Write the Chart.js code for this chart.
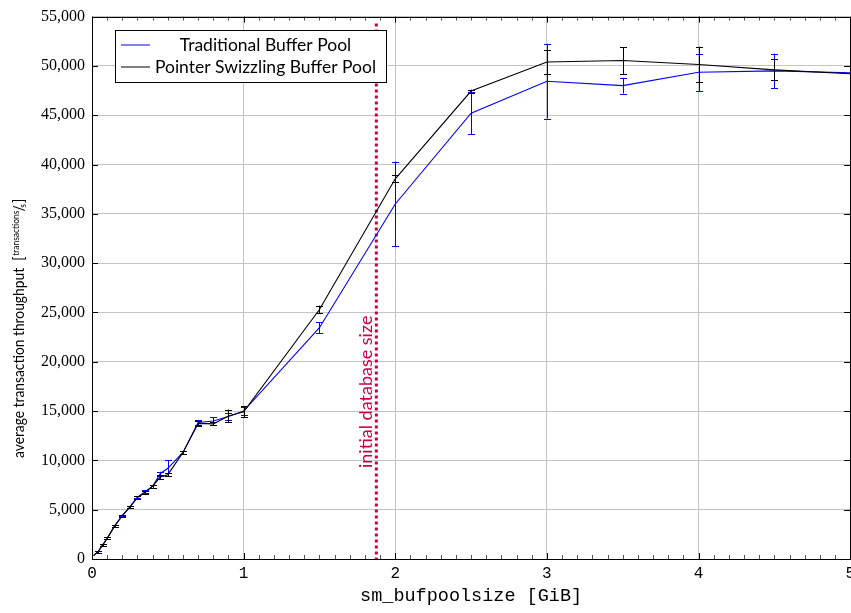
<!DOCTYPE html>
<html>
<head>
<meta charset="utf-8">
<script src="https://cdn.jsdelivr.net/npm/chart.js@4.4.1/dist/chart.umd.min.js"></script>
<style>
  html, body { margin: 0; padding: 0; background: #fff; overflow: hidden; }
  #wrap { position: relative; width: 851px; height: 613px; overflow: hidden; }
  canvas { position: absolute; left: 0; top: 0; }
</style>
</head>
<body>
<div id="wrap"><canvas id="c" width="860" height="613"></canvas></div>
<script>
// ---- data ----
const bufferSizes = [0.01, 0.04, 0.07, 0.1, 0.15, 0.2, 0.25, 0.3, 0.35, 0.4, 0.45, 0.5, 0.6, 0.7, 0.8, 0.9, 1, 1.5, 2, 2.5, 3, 3.5, 4, 4.5, 5];
const traditional    = [350, 740, 1420, 2090, 3360, 4410, 5290, 6270, 6820, 7380, 8650, 9200, 10800, 13850, 14000, 14450, 15000, 23450, 36000, 45200, 48450, 48000, 49350, 49500, 49300];
const traditionalErr = [0, 120, 120, 100, 100, 100, 120, 120, 150, 150, 200, 800, 120, 250, 400, 350, 400, 550, 4300, 2150, 3800, 800, 1900, 1750, 0];
const swizzling      = [350, 740, 1410, 2090, 3360, 4400, 5270, 6240, 6740, 7380, 8310, 8550, 10800, 13750, 13700, 14500, 14920, 25300, 38550, 47450, 50400, 50550, 50150, 49600, 49200];
const swizzlingErr   = [0, 120, 120, 100, 100, 100, 120, 120, 150, 150, 200, 150, 120, 250, 150, 650, 550, 400, 350, 150, 1200, 1350, 1800, 1050, 0];
const seriesLabels = ['Traditional Buffer Pool', 'Pointer Swizzling Buffer Pool'];
const xTicks = [0, 1, 2, 3, 4, 5];
const yTicks = [0, 5000, 10000, 15000, 20000, 25000, 30000, 35000, 40000, 45000, 50000, 55000];
const initialDbSize = 1.875;
const markerLabel = 'initial database size';
const xTitle = 'sm_bufpoolsize [GiB]';
const yTitleMain = 'average transaction throughput';
const yTitleUnitNum = 'transactions';
const yTitleUnitDen = 's';

const SANS = 'Lato, "Noto Sans", sans-serif';
const SERIF = '"Liberation Serif", "DejaVu Serif", serif';
const MONO = '"Liberation Mono", "DejaVu Sans Mono", monospace';
const MARK = '#c8004a';

const toPoints = (ys) => bufferSizes.map((x, i) => ({ x: x, y: ys[i] }));

const errorBars = {
  id: 'errorBars',
  afterDatasetsDraw(chart) {
    const { ctx, scales: { x, y } } = chart;
    const errs = [traditionalErr, swizzlingErr];
    const vals = [traditional, swizzling];
    ctx.save();
    ctx.lineWidth = 1;
    ctx.beginPath();
    ctx.rect(chart.chartArea.left, chart.chartArea.top, chart.chartArea.right - chart.chartArea.left, chart.chartArea.bottom - chart.chartArea.top);
    ctx.clip();
    [0, 1].forEach(d => {
      ctx.strokeStyle = chart.data.datasets[d].borderColor;
      bufferSizes.forEach((bx, i) => {
        const e = errs[d][i];
        if (!e) return;
        const px = Math.round(x.getPixelForValue(bx)) + 0.5;
        const y1 = y.getPixelForValue(vals[d][i] - e);
        const y2 = y.getPixelForValue(vals[d][i] + e);
        ctx.beginPath();
        ctx.moveTo(px, y1); ctx.lineTo(px, y2);
        ctx.moveTo(px - 3.5, Math.round(y1) + 0.5); ctx.lineTo(px + 3.5, Math.round(y1) + 0.5);
        ctx.moveTo(px - 3.5, Math.round(y2) + 0.5); ctx.lineTo(px + 3.5, Math.round(y2) + 0.5);
        ctx.stroke();
      });
    });
    ctx.restore();
  }
};

const decorations = {
  id: 'decorations',
  beforeDatasetsDraw(chart) {
    const { ctx, chartArea: a, scales: { x, y } } = chart;
    ctx.save();
    // minor & major ticks
    ctx.lineWidth = 1;
    ctx.strokeStyle = '#555';
    ctx.beginPath();
    for (let k = 1; k < 50; k++) {
      if (k % 10 === 0) continue;
      const px = Math.round(x.getPixelForValue(k / 10)) + 0.5;
      ctx.moveTo(px, a.bottom); ctx.lineTo(px, a.bottom - 4);
      ctx.moveTo(px, a.top); ctx.lineTo(px, a.top + 4);
    }
    ctx.stroke();
    ctx.strokeStyle = '#000';
    ctx.beginPath();
    xTicks.forEach(v => {
      const px = Math.round(x.getPixelForValue(v)) + 0.5;
      ctx.moveTo(px, a.bottom); ctx.lineTo(px, a.bottom - 6);
      ctx.moveTo(px, a.top); ctx.lineTo(px, a.top + 6);
    });
    yTicks.forEach(v => {
      const py = Math.round(y.getPixelForValue(v)) + 0.5;
      ctx.moveTo(a.left, py); ctx.lineTo(a.left + 6, py);
      ctx.moveTo(a.right, py); ctx.lineTo(a.right - 6, py);
    });
    ctx.stroke();
    // marker line
    const mx = x.getPixelForValue(initialDbSize);
    ctx.strokeStyle = MARK;
    ctx.lineWidth = 3;
    ctx.setLineDash([3, 3]);
    ctx.beginPath();
    ctx.moveTo(mx, y.getPixelForValue(54300));
    ctx.lineTo(mx, a.bottom);
    ctx.stroke();
    ctx.setLineDash([]);
    // marker label
    ctx.fillStyle = MARK;
    ctx.font = '18px ' + SANS;
    ctx.translate(mx - 4, 468);
    ctx.rotate(-Math.PI / 2);
    ctx.textAlign = 'left';
    ctx.textBaseline = 'alphabetic';
    ctx.fillText(markerLabel, 0, 0);
    ctx.restore();
  },
  afterDraw(chart) {
    const { ctx, chartArea: a } = chart;
    ctx.save();
    // frame
    ctx.strokeStyle = '#000';
    ctx.lineWidth = 1;
    ctx.strokeRect(Math.round(a.left) + 0.5, Math.round(a.top) + 0.5, Math.round(a.right - a.left), Math.round(a.bottom - a.top));
    // legend
    const lx = 115.5, ly = 30.5, lw = 271, lh = 52;
    ctx.fillStyle = '#fff';
    ctx.fillRect(lx, ly, lw, lh);
    ctx.strokeRect(lx, ly, lw, lh);
    ctx.font = '17.5px ' + SANS;
    ctx.textAlign = 'center';
    ctx.textBaseline = 'middle';
    const rows = [45, 67];
    chart.data.datasets.forEach((ds, i) => {
      ctx.strokeStyle = ds.borderColor;
      ctx.lineWidth = 1;
      ctx.beginPath();
      ctx.moveTo(121, rows[i]); ctx.lineTo(150, rows[i]);
      ctx.stroke();
      ctx.fillStyle = '#000';
      ctx.fillText(ds.label, 265.5, rows[i]);
    });
    // y title with unit fraction
    ctx.translate(19, 328);
    ctx.rotate(-Math.PI / 2);
    ctx.scale(0.89, 1);
    const big = '15.5px ' + SANS, small = '9.5px ' + SANS;
    ctx.font = big;
    const wMain = ctx.measureText(yTitleMain + '  ').width;
    const wBr = ctx.measureText('[').width;
    const wSlash = ctx.measureText('/').width;
    ctx.font = small;
    const wNum = ctx.measureText(yTitleUnitNum).width;
    const wDen = ctx.measureText(yTitleUnitDen).width;
    const total = wMain + wBr * 2 + wNum + wSlash * 0.6 + wDen + 2;
    let cx = -total / 2;
    ctx.textAlign = 'left';
    ctx.textBaseline = 'middle';
    ctx.fillStyle = '#000';
    ctx.font = big;
    ctx.fillText(yTitleMain, cx, 0); cx += wMain;
    ctx.fillText('[', cx, 0); cx += wBr + 1;
    ctx.font = small;
    ctx.fillText(yTitleUnitNum, cx, -3); cx += wNum - 1;
    ctx.font = big;
    ctx.fillText('/', cx, 0); cx += wSlash * 0.6;
    ctx.font = small;
    ctx.fillText(yTitleUnitDen, cx, 4); cx += wDen + 1;
    ctx.font = big;
    ctx.fillText(']', cx, 0);
    ctx.restore();
  }
};

new Chart(document.getElementById('c'), {
  type: 'line',
  data: {
    datasets: [
      { label: seriesLabels[0], data: toPoints(traditional), borderColor: '#0000ff', borderWidth: 1.1, pointRadius: 0, tension: 0, order: 1 },
      { label: seriesLabels[1], data: toPoints(swizzling), borderColor: '#000000', borderWidth: 1.1, pointRadius: 0, tension: 0, order: 0 }
    ]
  },
  options: {
    responsive: false,
    devicePixelRatio: 1,
    animation: false,
    layout: { padding: { left: 0, right: 5, top: 14, bottom: 0 } },
    plugins: { legend: { display: false }, tooltip: { enabled: false } },
    scales: {
      x: {
        type: 'linear', min: 0, max: 5,
        afterBuildTicks: (s) => { s.ticks = xTicks.map(v => ({ value: v })); },
        afterFit: (s) => { s.height = 54; },
        ticks: { font: { family: MONO, size: 16 }, color: '#000', padding: 5, maxRotation: 0, autoSkip: false },
        grid: { color: '#c4c4c4', lineWidth: 1, drawTicks: false },
        border: { display: false },
        title: { display: true, text: xTitle, font: { family: MONO, size: 18.5 }, color: '#000', padding: { top: 0, bottom: 6 } }
      },
      y: {
        type: 'linear', min: 0, max: 55000,
        afterBuildTicks: (s) => { s.ticks = yTicks.map(v => ({ value: v })); },
        afterFit: (s) => { s.width = 92; },
        ticks: { font: { family: SERIF, size: 16 }, color: '#000', padding: 7, callback: (v) => v.toLocaleString('en-US') },
        grid: { color: '#c4c4c4', lineWidth: 1, drawTicks: false },
        border: { display: false }
      }
    }
  },
  plugins: [decorations, errorBars]
});
</script>
</body>
</html>
